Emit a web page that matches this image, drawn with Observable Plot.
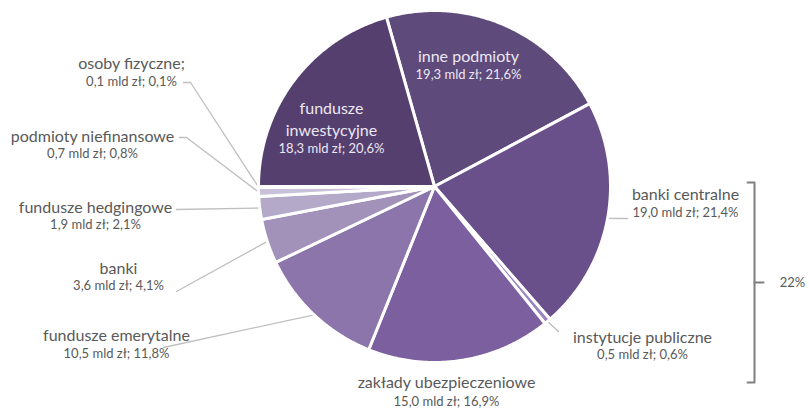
<!DOCTYPE html>
<html><head><meta charset="utf-8">
<script src="https://cdn.jsdelivr.net/npm/d3@7"></script>
<script src="https://cdn.jsdelivr.net/npm/@observablehq/plot@0.6"></script>
<style>body{margin:0;background:#fff;}</style>
</head><body><div id="chart"></div>
<script>
// ---- data ----
const names = ["inne podmioty","banki centralne","instytucje publiczne","zakłady ubezpieczeniowe","fundusze emerytalne","banki","fundusze hedgingowe","podmioty niefinansowe","osoby fizyczne","fundusze inwestycyjne"];
const nameLabels = ["inne podmioty","banki centralne","instytucje publiczne","zakłady ubezpieczeniowe","fundusze emerytalne","banki","fundusze hedgingowe","podmioty niefinansowe","osoby fizyczne;","fundusze\ninwestycyjne"];
const valuesMld = [19.3,19.0,0.5,15.0,10.5,3.6,1.9,0.7,0.1,18.3];
const sharesPct = [21.6,21.4,0.6,16.9,11.8,4.1,2.1,0.8,0.1,20.6];
const bracketMembers = ["banki centralne","instytucje publiczne"];
const bracketLabel = "22%";

// ---- styles / layout ----
const palette = ["#5e4a7b","#6a508a","#9a84bd","#7c5f9f","#8c75ab","#a292b9","#b5a9c9","#c9c0d9","#d8d1e4","#543f6e"];
const W = 810, H = 410;
const cx = 434, cy = 186, R = 176;
const firstSliceDeg = -15.84;
const FONT = "Lato, 'Open Sans', sans-serif";
// label anchor positions (name line center, value line center)
const labelPos = {
  "inne podmioty":          {x:468, yn:55,  yv:74,  inside:true},
  "banki centralne":        {x:685, yn:193, yv:212, lead:[[627,218],[618,218]]},
  "instytucje publiczne":   {x:642, yn:336, yv:354, lead:[[558,331]]},
  "zakłady ubezpieczeniowe":{x:446, yn:381, yv:401},
  "fundusze emerytalne":    {x:116, yn:334, yv:353, lead:[[163,347]]},
  "banki":                  {x:118, yn:267, yv:285, lead:[[176,291]]},
  "fundusze hedgingowe":    {x:95,  yn:206, yv:224, lead:[[176,209]]},
  "podmioty niefinansowe":  {x:92,  yn:135, yv:153, lead:[[179,137],[186,137]]},
  "osoby fizyczne":         {x:131, yn:62,  yv:81,  lead:[[183,82],[190,82]]},
  "fundusze inwestycyjne":  {x:331, yn:117.5, yv:148, inside:true}
};

const fmt = v => v.toFixed(1).replace(".", ",");
const rad = d => d * Math.PI / 180;

const rows = names.map((n,i) => ({name:n, label:nameLabels[i], mld:valuesMld[i], pct:sharesPct[i]}));
const arcs = d3.pie().sort(null).value(d => d.pct)
  .startAngle(rad(firstSliceDeg)).endAngle(rad(firstSliceDeg + 360))(rows);

const px = a => cx + R * Math.sin(a), py = a => cy - R * Math.cos(a);
const slicePts = [];
for (const a of arcs) {
  const n = a.data.name;
  slicePts.push({name:n, x:cx, y:cy});
  const steps = Math.max(2, Math.ceil((a.endAngle - a.startAngle) / rad(0.5)));
  for (let k = 0; k <= steps; k++) {
    const t = a.startAngle + (a.endAngle - a.startAngle) * k / steps;
    slicePts.push({name:n, x:px(t), y:py(t)});
  }
  slicePts.push({name:n, x:cx, y:cy});
}

const leaderPts = [];
for (const a of arcs) {
  const p = labelPos[a.data.name];
  if (!p.lead) continue;
  const mid = (a.startAngle + a.endAngle) / 2;
  for (const [x,y] of p.lead) leaderPts.push({name:a.data.name, x, y});
  leaderPts.push({name:a.data.name, x:px(mid), y:py(mid)});
}

const nameText = rows.map(r => ({...r, x:labelPos[r.name].x, y:labelPos[r.name].yn, inside:!!labelPos[r.name].inside}));
const valText = rows.map(r => ({...r, x:labelPos[r.name].x, y:labelPos[r.name].yv, inside:!!labelPos[r.name].inside,
  text:`${fmt(r.mld)} mld zł; ${fmt(r.pct)}%`}));

// bracket spanning labels of its members
const bTop = labelPos[bracketMembers[0]].yn - 11, bBot = labelPos[bracketMembers[1]].yv + 28;
const bX = 754, bMid = (bTop + bBot) / 2;
const bracket = [{g:"b",x:bX-7,y:bTop},{g:"b",x:bX,y:bTop},{g:"b",x:bX,y:bBot},{g:"b",x:bX-7,y:bBot},
                 {g:"t",x:bX,y:bMid},{g:"t",x:bX+9,y:bMid}];

const chart = Plot.plot({
  width: W, height: H,
  margin: 0,
  x: {domain:[0,W], range:[0,W], axis:null},
  y: {domain:[0,H], range:[0,H], axis:null},
  color: {domain:names, range:palette},
  marks: [
    Plot.line(leaderPts, {x:"x", y:"y", z:"name", stroke:"#bfbfbf", strokeWidth:1.3}),
    Plot.line(slicePts, {x:"x", y:"y", z:"name", fill:"name", stroke:"white", strokeWidth:3, strokeLinejoin:"round"}),
    Plot.line(bracket, {x:"x", y:"y", z:"g", stroke:"#7f7f7f", strokeWidth:2}),
    Plot.text([bracketLabel], {x:() => 792, y:() => bMid, text:d => d, fill:"#595959", fontSize:13, fontFamily:FONT}),
    Plot.text(nameText, {x:"x", y:"y", text:"label", fill:d => d.inside ? "#ece7f2" : "#595959",
      fontSize:16, fontFamily:FONT, lineHeight:1.35}),
    Plot.text(valText, {x:"x", y:"y", text:"text", fill:d => d.inside ? "#ece7f2" : "#595959",
      fontSize:13, fontFamily:FONT})
  ]
});
document.getElementById("chart").appendChild(chart);
</script>
</body></html>
